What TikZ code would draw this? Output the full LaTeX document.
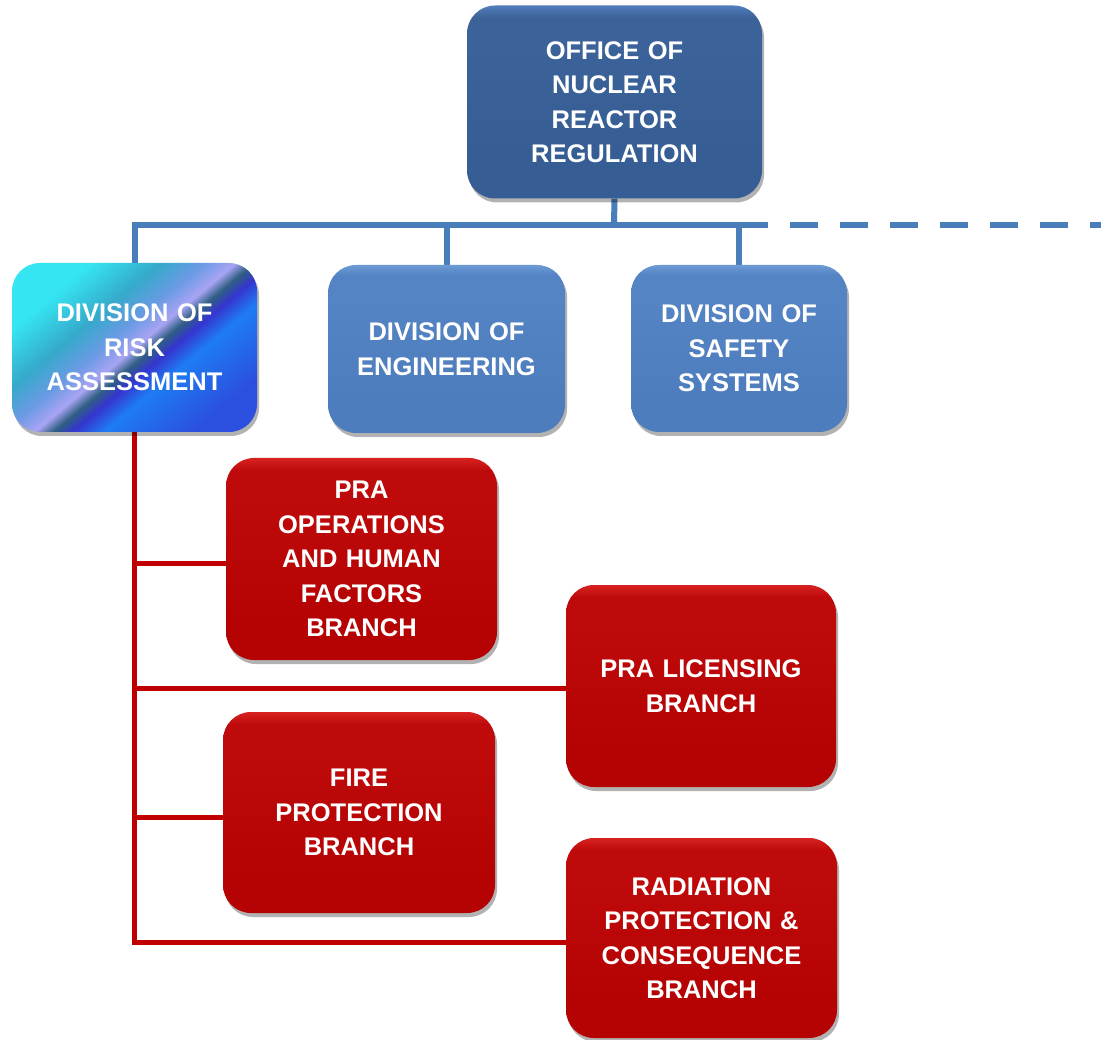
\documentclass[tikz,border=0pt]{standalone}
\usepackage{fontspec}
\setmainfont{Liberation Sans}
\usetikzlibrary{shadows,backgrounds}
\definecolor{ofTop}{HTML}{527EBB}
\definecolor{ofMid}{HTML}{3C6399}
\definecolor{ofBot}{HTML}{375E94}
\definecolor{dvTop}{HTML}{6C9BD6}
\definecolor{dvMid}{HTML}{5484C3}
\definecolor{dvBot}{HTML}{4D7DBC}
\definecolor{rdTop}{HTML}{D82222}
\definecolor{rdMid}{HTML}{BE0A0A}
\definecolor{rdBot}{HTML}{B50202}
\definecolor{busBlue}{HTML}{4A7EBB}
\definecolor{busRed}{HTML}{C00000}
\definecolor{rk1}{HTML}{35E6F2}
\definecolor{rk2}{HTML}{35AACB}
\definecolor{rk3}{HTML}{6A9AE4}
\definecolor{rk4}{HTML}{A8A4F4}
\definecolor{rk5}{HTML}{2F5F82}
\definecolor{rk6}{HTML}{3535CF}
\definecolor{rk7}{HTML}{1E7CF2}
\definecolor{rk8}{HTML}{2B50E0}
\pgfdeclarehorizontalshading{riskshade}{100bp}{color(0bp)=(rk1); color(27bp)=(rk1); color(38bp)=(rk2); color(45bp)=(rk3); color(50bp)=(rk4); color(53bp)=(rk5); color(56bp)=(rk6); color(61bp)=(rk7); color(75bp)=(rk8); color(100bp)=(rk8)}
\pgfdeclareverticalshading{officeshade}{100bp}{color(0bp)=(ofBot); color(35bp)=(ofBot); color(65bp)=(ofMid); color(72bp)=(ofMid); color(75bp)=(ofTop); color(100bp)=(ofTop)}
\pgfdeclareverticalshading{divshade}{100bp}{color(0bp)=(dvBot); color(35bp)=(dvBot); color(65bp)=(dvMid); color(72bp)=(dvMid); color(75bp)=(dvTop); color(100bp)=(dvTop)}
\pgfdeclareverticalshading{redshade}{100bp}{color(0bp)=(rdBot); color(35bp)=(rdBot); color(65bp)=(rdMid); color(72bp)=(rdMid); color(75bp)=(rdTop); color(100bp)=(rdTop)}
\tikzset{
  box/.style={rectangle, rounded corners=28pt, inner sep=0pt, align=center,
    text=white, font=\bfseries\fontsize{25.5}{34.5}\selectfont,
    drop shadow={shadow xshift=2pt, shadow yshift=-4pt, opacity=0.3, fill=black}},
  office/.style={box, shading=officeshade},
  division/.style={box, shading=divshade},
  riskbox/.style={box, shading=riskshade, shading angle=-50},
  branch/.style={box, shading=redshade},
  bluebus/.style={draw=busBlue, line width=6pt},
  redbus/.style={draw=busRed, line width=5pt},
}
\begin{document}
\begin{tikzpicture}[x=1pt,y=-1pt]
\useasboundingbox (0,0) rectangle (1101,1040);
\node[office, minimum width=295pt, minimum height=193pt, text width=270pt] (off) at (614.5,102) {OFFICE OF\\NUCLEAR\\REACTOR\\REGULATION};
\node[riskbox, minimum width=245pt, minimum height=169pt, text width=235pt] (risk) at (134.5,347.5) {DIVISION OF\\RISK\\ASSESSMENT};
\node[division, minimum width=237pt, minimum height=168pt, text width=225pt] (eng) at (446.5,349) {DIVISION OF\\ENGINEERING};
\node[division, minimum width=216pt, minimum height=167pt, text width=205pt] (saf) at (739,348.5) {DIVISION OF\\SAFETY\\SYSTEMS};
\node[branch, minimum width=271pt, minimum height=202pt, text width=255pt] (ops) at (361.5,559) {PRA\\OPERATIONS\\AND HUMAN\\FACTORS\\BRANCH};
\node[branch, minimum width=270pt, minimum height=202pt, text width=255pt] (lic) at (701,686) {PRA LICENSING\\BRANCH};
\node[branch, minimum width=272pt, minimum height=201pt, text width=255pt] (fire) at (359,812.5) {FIRE\\PROTECTION\\BRANCH};
\node[branch, minimum width=271pt, minimum height=200pt, text width=255pt] (rad) at (701.5,938) {RADIATION\\PROTECTION \&\\CONSEQUENCE\\BRANCH};
\coordinate (j) at (614,225);
\coordinate (busend) at (768,225);
\coordinate (dashstart) at (790,225);
\coordinate (dashend) at (1101,225);
\begin{scope}[on background layer]
\fill[white] (0,0) rectangle (1101,1040);
\draw[bluebus] (off.south) -- (j);
\draw[bluebus] (risk.north) -- (risk.north |- j) -- (busend);
\draw[bluebus] (eng.north) -- (eng.north |- j);
\draw[bluebus] (saf.north) -- (saf.north |- j);
\draw[bluebus, dash pattern=on 28pt off 22pt] (dashstart) -- (dashend);
\draw[redbus] (risk.south) -- ([yshift=-6.5pt]risk.south |- rad.west);
\draw[redbus] ([yshift=-4pt]risk.south |- ops.west) -- ([yshift=-4pt]ops.west);
\draw[redbus] ([yshift=-2pt]risk.south |- lic.west) -- ([yshift=-2pt]lic.west);
\draw[redbus] ([yshift=-5pt]risk.south |- fire.west) -- ([yshift=-5pt]fire.west);
\draw[redbus] ([yshift=-4pt]risk.south |- rad.west) -- ([yshift=-4pt]rad.west);
\end{scope}
\end{tikzpicture}
\end{document}
